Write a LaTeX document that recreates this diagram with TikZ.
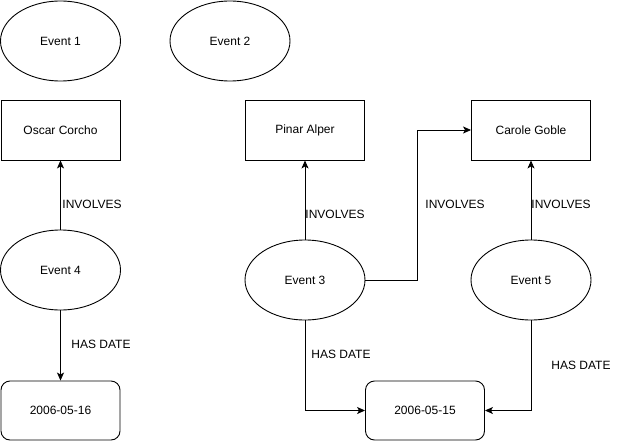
\documentclass[tikz,border=0pt]{standalone}
\usepackage{fontspec}
\setmainfont{Liberation Sans}
\usetikzlibrary{shapes.geometric,arrows.meta}

\tikzset{
  event/.style={draw, ellipse, minimum width=120pt, minimum height=80pt, inner sep=0pt},
  person/.style={draw, rectangle, minimum width=119pt, minimum height=60pt, inner sep=0pt},
  datebox/.style={draw, rectangle, rounded corners=9pt, minimum width=119pt, minimum height=59pt, inner sep=0pt},
  rel/.style={anchor=west, inner sep=0pt},
}

\begin{document}
\begin{tikzpicture}[>={Stealth[length=8pt,width=7pt,inset=2pt]}, x=1pt, y=-1pt, font=\fontsize{12}{14}\selectfont, line width=0.9pt]
	\useasboundingbox (0,0) rectangle (631,441);
	%Eventi
	\node [event] (e1) at (60.5,41) {Event 1};
	\node [event] (e2) at (230,41) {Event 2};
	\node [event] (e4) at (60.5,270) {Event 4};
	\node [event] (e3) at (305,280) {Event 3};
	\node [event] (e5) at (531,280) {Event 5};
	%Persone
	\node [person] (oscar) at (60.5,130) {Oscar Corcho};
	\node [person] (pinar) at (305,130) {Pinar Alper};
	\node [person] (carole) at (531,130) {Carole Goble};
	%Date
	\node [datebox] (d16) at (60.5,410.5) {2006-05-16};
	\node [datebox] (d15) at (425,410.5) {2006-05-15};
	%Collegamenti
	\draw [->] (e4) -- (oscar);
	\draw [->] (e4) -- (d16);
	\draw [->] (e3) -- (pinar);
	\draw [->] (e3.east) -- ++(52,0) |- (carole.west);
	\draw [->] (e3.south) |- (d15.west);
	\draw [->] (e5) -- (carole);
	\draw [->] (e5.south) |- (d15.east);
	%Etichette
	\node [rel] (r1) at (62,204) {INVOLVES};
	\node [rel] (r2) at (71,344) {HAS DATE};
	\node [rel] (r3) at (305,214) {INVOLVES};
	\node [rel] (r4) at (425,204) {INVOLVES};
	\node [rel] (r5) at (531,204) {INVOLVES};
	\node [rel] (r6) at (311,354) {HAS DATE};
	\node [rel] (r7) at (551,365) {HAS DATE};
\end{tikzpicture}
\end{document}
